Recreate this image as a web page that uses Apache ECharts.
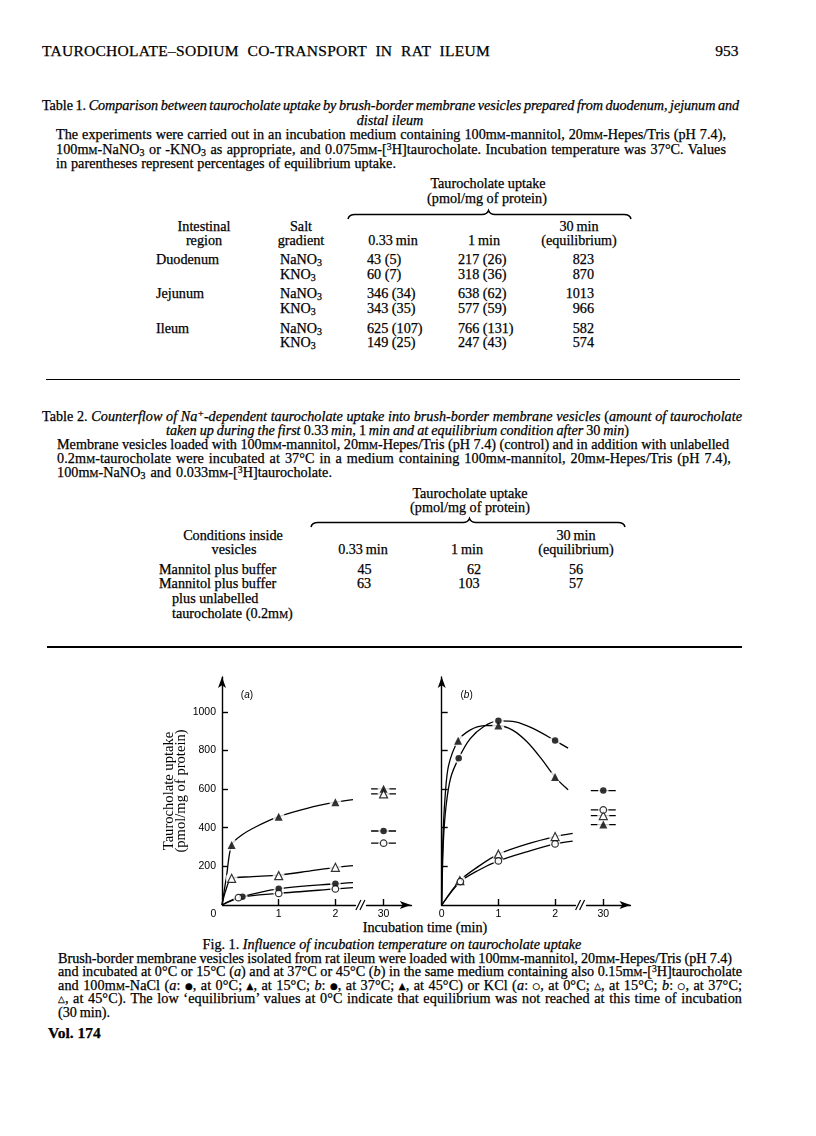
<!DOCTYPE html>
<html><head><meta charset="utf-8">
<script src="https://cdn.jsdelivr.net/npm/echarts@6/dist/echarts.min.js"></script>
<style>
html,body{margin:0;padding:0;background:#fff;}
#page{position:relative;width:816px;height:1136px;overflow:hidden;background:#fff;font-family:"Liberation Serif","Times New Roman",serif;color:#000;}
.t{position:absolute;white-space:nowrap;line-height:1;-webkit-text-stroke:0.25px #000;}
.sc{font-variant:small-caps;}
sub{font-size:0.7em;vertical-align:-0.22em;line-height:0;}
sup{font-size:0.68em;vertical-align:0.42em;line-height:0;}
.sym{font-family:"DejaVu Sans";font-size:0.62em;vertical-align:0.12em;}
#chart{position:absolute;left:0;top:0;width:816px;height:1136px;z-index:2;}
.rule{position:absolute;background:#000;}
svg.br{position:absolute;left:0;top:0;}
</style></head>
<body><div id="page">
<svg class="br" width="816" height="1136">
<path d="M348,219 Q349,214.5 355,214.5 L482,214.5 Q487,214.5 488.5,210.5 Q490,214.5 495,214.5 L624,214.5 Q630,214.5 631,219" fill="none" stroke="#000" stroke-width="1.5"/>
<path d="M311,527 Q312,522.5 318,522.5 L463,522.5 Q468,522.5 469.5,518.5 Q471,522.5 476,522.5 L618,522.5 Q624,522.5 625,527" fill="none" stroke="#000" stroke-width="1.5"/>
</svg>
<div class="rule" style="left:46px;top:378.5px;width:694px;height:1.6px"></div>
<div class="rule" style="left:47px;top:645.7px;width:695px;height:2px"></div>
<div id="chart"></div>
</div>
<script>
// ---------------- chart data ----------------
// Fig. 1(a): 0 °C and 15 °C ; time (min), uptake (pmol/mg of protein)
const A_NACL_15 = [[0.17, 311], [1, 457], [2, 532]];   // ▲ NaCl 15 °C
const A_KCL_15  = [[0.17, 138], [1, 152], [2, 195]];   // △ KCl 15 °C
const A_NACL_0  = [[0.36, 43], [1, 84], [2, 110]];     // ● NaCl 0 °C
const A_KCL_0   = [[0.29, 38], [1, 60], [2, 83]];      // ○ KCl 0 °C
const A_NACL_15_EQ = 601, A_KCL_15_EQ = 575, A_NACL_0_EQ = 383, A_KCL_0_EQ = 320; // at 30 min
// Fig. 1(b): 37 °C and 45 °C
const B_NACL_37 = [[0.3, 760], [1, 953], [2, 851]];    // ● NaCl 37 °C
const B_NACL_45 = [[0.29, 850], [1, 929], [2, 662]];   // ▲ NaCl 45 °C
const B_KCL_45  = [[0.32, 126], [1, 263], [2, 354]];   // △ KCl 45 °C
const B_KCL_37  = [[0.33, 121], [1, 228], [2, 316]];   // ○ KCl 37 °C
const B_NACL_37_EQ = 592, B_NACL_45_EQ = 416, B_KCL_45_EQ = 463, B_KCL_37_EQ = 492;
// hand-drawn fitted curves
const A_NACL_15_CURVE = [[0, 0], [0.08, 150], [0.17, 311], [0.35, 362], [0.6, 405], [1, 457], [1.5, 500], [2, 532], [2.31, 545]];
const A_KCL_15_CURVE  = [[0, 0], [0.06, 70], [0.17, 138], [0.5, 146], [1, 155], [1.5, 174], [2, 195], [2.31, 204]];
const A_NACL_0_CURVE  = [[0, 0], [0.36, 43], [1, 84], [2, 110], [2.31, 116]];
const A_KCL_0_CURVE   = [[0, 0], [0.29, 38], [1, 60], [2, 83], [2.31, 90]];
const B_NACL_37_CURVE = [[0, 0], [0.03, 330], [0.08, 520], [0.16, 660], [0.3, 760], [0.5, 860], [0.75, 925], [1, 953], [1.3, 948], [1.6, 915], [2, 851], [2.23, 812]];
const B_NACL_45_CURVE = [[0, 0], [0.02, 330], [0.06, 560], [0.12, 720], [0.29, 850], [0.5, 905], [0.75, 928], [1, 929], [1.25, 905], [1.5, 846], [1.75, 760], [2, 662], [2.23, 596]];
const B_KCL_45_CURVE  = [[0, 0], [0.32, 126], [0.65, 200], [1, 263], [1.5, 315], [2, 354], [2.31, 371]];
const B_KCL_37_CURVE  = [[0, 0], [0.33, 121], [0.65, 180], [1, 228], [1.5, 275], [2, 316], [2.31, 331]];
// axis ticks
const X_TICK_LABELS = [0, 1, 2, 30];
const X_TICKS = [1, 2, 30];
const Y_TICKS = [200, 400, 600, 800, 1000];
const EQ_TIME = 30;

// ---------------- page text ----------------
const page = document.getElementById('page');
const FS = 14.2;
const mM = 'm<span class="sc">m</span>';
const s3 = '<sub>3</sub>';
const h3 = '<sup>3</sup>';
function sym(c){ return '<span class="sym">' + c + '</span>'; }
function put(html, x, y, o){
  o = o || {};
  const size = o.size || FS;
  const d = document.createElement('div');
  d.className = 't';
  d.style.fontSize = size + 'px';
  if (o.bold) d.style.fontWeight = 'bold';
  d.innerHTML = html;
  page.appendChild(d);
  let w = d.getBoundingClientRect().width;
  if (o.w) {
    const txt = d.textContent;
    const spaces = (txt.match(/ /g) || []).length;
    const diff = o.w - w;
    if (spaces > 0) {
      d.style.letterSpacing = (diff * 0.4 / txt.length) + 'px';
      d.style.wordSpacing = (diff * 0.6 / spaces) + 'px';
    } else {
      d.style.letterSpacing = (diff / txt.length) + 'px';
    }
    w = o.w;
  }
  let left = x;
  if (o.align === 'center') left = x - w / 2;
  else if (o.align === 'right') left = x - w;
  d.style.left = left + 'px';
  d.style.top = (y - 0.54 * size) + 'px';
}
const C = {align: 'center'};
put('TAUROCHOLATE–SODIUM CO-TRANSPORT IN RAT ILEUM', 42, 51, {size: 15.5, w: 448});
put('953', 738.5, 51, {size: 15.5, align: 'right'});

put('Table 1. <i>Comparison between taurocholate uptake by brush-border membrane vesicles prepared from duodenum, jejunum and</i>', 42, 106, {w: 697});
put('<i>distal ileum</i>', 390, 120.5, C);
put(`The experiments were carried out in an incubation medium containing 100${mM}-mannitol, 20${mM}-Hepes/Tris (pH 7.4),`, 56, 135, {w: 670});
put(`100${mM}-NaNO${s3} or -KNO${s3} as appropriate, and 0.075${mM}-[${h3}H]taurocholate. Incubation temperature was 37°C. Values`, 56, 149.5, {w: 670});
put('in parentheses represent percentages of equilibrium uptake.', 56, 164, {w: 340});
put('Taurocholate uptake', 488, 184, C);
put('(pmol/mg of protein)', 487, 198.3, C);
put('Intestinal', 204, 226.7, C); put('region', 204, 241, C);
put('Salt', 301, 226.7, C); put('gradient', 301, 241, C);
put('0.33&#8201;min', 393, 241, C); put('1&#8201;min', 484, 241, C);
put('30&#8201;min', 579, 226.7, C); put('(equilibrium)', 579, 241, C);
const T1 = [
  ['Duodenum', `NaNO${s3}`, '43 (5)', '217 (26)', '823', 260],
  ['', `KNO${s3}`, '60 (7)', '318 (36)', '870', 274.3],
  ['Jejunum', `NaNO${s3}`, '346 (34)', '638 (62)', '1013', 294],
  ['', `KNO${s3}`, '343 (35)', '577 (59)', '966', 308.3],
  ['Ileum', `NaNO${s3}`, '625 (107)', '766 (131)', '582', 328.3],
  ['', `KNO${s3}`, '149 (25)', '247 (43)', '574', 342.7]
];
T1.forEach(r => {
  if (r[0]) put(r[0], 156, r[5]);
  put(r[1], 280, r[5]);
  put(r[2], 367, r[5]);
  put(r[3], 458, r[5]);
  put(r[4], 594, r[5], {align: 'right'});
});

put('Table 2. <i>Counterflow of Na<sup>+</sup>-dependent taurocholate uptake into brush-border membrane vesicles</i> (<i>amount of taurocholate</i>', 42, 416.7, {w: 700});
put('<i>taken up during the first</i> 0.33&#8201;<i>min</i>, 1&#8201;<i>min and at equilibrium condition after</i> 30&#8201;<i>min</i>)', 397.5, 430.5, {align: 'center', w: 463});
put(`Membrane vesicles loaded with 100${mM}-mannitol, 20${mM}-Hepes/Tris (pH 7.4) (control) and in addition with unlabelled`, 57, 444.5, {w: 672});
put(`0.2${mM}-taurocholate were incubated at 37°C in a medium containing 100${mM}-mannitol, 20${mM}-Hepes/Tris (pH 7.4),`, 57, 458.5, {w: 674});
put(`100${mM}-NaNO${s3} and 0.033${mM}-[${h3}H]taurocholate.`, 57, 472.5, {w: 275});
put('Taurocholate uptake', 470, 493.3, C);
put('(pmol/mg of protein)', 470, 507.3, C);
put('Conditions inside', 233, 536, C); put('vesicles', 234, 550, C);
put('0.33&#8201;min', 363, 550, C); put('1&#8201;min', 467, 550, C);
put('30&#8201;min', 576, 536, C); put('(equilibrium)', 576, 550, C);
put('Mannitol plus buffer', 159, 569.3);
put('45', 364.5, 569.3, C); put('62', 474, 569.3, C); put('56', 576, 569.3, C);
put('Mannitol plus buffer', 159, 584);
put('63', 364, 584, C); put('103', 469, 584, C); put('57', 576, 584, C);
put('plus unlabelled', 172, 598.3);
put(`taurocholate (0.2${mM})`, 172, 614);

put('Incubation time (min)', 425, 927.3, C);
put('Fig. 1. <i>Influence of incubation temperature on taurocholate uptake</i>', 392, 945, C);
put(`Brush-border membrane vesicles isolated from rat ileum were loaded with 100${mM}-mannitol, 20${mM}-Hepes/Tris (pH 7.4)`, 58, 958.5, {w: 674});
put(`and incubated at 0°C or 15°C (<i>a</i>) and at 37°C or 45°C (<i>b</i>) in the same medium containing also 0.15${mM}-[${h3}H]taurocholate`, 58, 972, {w: 684});
put(`and 100${mM}-NaCl (<i>a</i>: ${sym('●')}, at 0°C; ${sym('▲')}, at 15°C; <i>b</i>: ${sym('●')}, at 37°C; ${sym('▲')}, at 45°C) or KCl (<i>a</i>: ${sym('○')}, at 0°C; ${sym('△')}, at 15°C; <i>b</i>: ${sym('○')}, at 37°C;`, 58, 985.5, {w: 684});
put(`${sym('△')}, at 45°C). The low ‘equilibrium’ values at 0°C indicate that equilibrium was not reached at this time of incubation`, 58, 999, {w: 684});
put('(30&#8201;min).', 58, 1012.5);
put('Vol. 174', 48, 1033, {size: 15.5, bold: true});

// ---------------- chart ----------------
const chart = echarts.init(document.getElementById('chart'));
const INK = '#000';
const LBL = {color: INK, fontFamily: 'Liberation Sans', fontSize: 10.5};
function xAxis(i){
  const lab = Object.assign({show: true, customValues: X_TICK_LABELS, margin: 4}, LBL);
  if (i === 0) {
    lab.formatter = v => v === 0 ? '{z|0}' : String(v);
    lab.rich = {z: Object.assign({padding: [0, 17, 0, 0]}, LBL)};
  } else {
    lab.formatter = v => String(v);
  }
  return {
    type: 'value', gridIndex: i, min: 0, max: 30.48,
    breaks: [{start: 2.35, end: 29.7, gap: 0.2}],
    breakArea: {show: false},
    axisLine: {show: true, onZero: false, symbol: ['none', 'arrow'], symbolSize: [6, 11], lineStyle: {color: INK, width: 1.4}},
    axisTick: {show: true, inside: true, length: 6, customValues: X_TICKS, lineStyle: {color: INK, width: 1.4}},
    axisLabel: lab,
    splitLine: {show: false}
  };
}
function yAxis(i, labels){
  const ax = {
    type: 'value', gridIndex: i, min: 0, max: 1180,
    axisLine: {show: true, onZero: false, symbol: ['none', 'arrow'], symbolSize: [6, 11], lineStyle: {color: INK, width: 1.4}},
    axisTick: {show: true, inside: true, length: 6, customValues: Y_TICKS, lineStyle: {color: INK, width: 1.4}},
    axisLabel: Object.assign({show: labels, customValues: Y_TICKS, margin: 6, formatter: v => String(v)}, LBL),
    splitLine: {show: false}
  };
  if (labels) {
    ax.name = 'Taurocholate uptake\n(pmol/mg of protein)';
    ax.nameLocation = 'middle';
    ax.nameRotate = 90;
    ax.nameGap = 28;
    ax.nameTextStyle = {fontFamily: 'Liberation Serif', fontSize: 14.6, lineHeight: 12.5, color: INK};
  }
  return ax;
}
const DEFS = [
  {p: 0, pts: A_NACL_15, eq: A_NACL_15_EQ, curve: A_NACL_15_CURVE, sym: 'triangle', filled: true},
  {p: 0, pts: A_KCL_15,  eq: A_KCL_15_EQ,  curve: A_KCL_15_CURVE,  sym: 'triangle', filled: false},
  {p: 0, pts: A_NACL_0,  eq: A_NACL_0_EQ,  curve: A_NACL_0_CURVE,  sym: 'circle', filled: true},
  {p: 0, pts: A_KCL_0,   eq: A_KCL_0_EQ,   curve: A_KCL_0_CURVE,   sym: 'circle', filled: false},
  {p: 1, pts: B_NACL_37, eq: B_NACL_37_EQ, curve: B_NACL_37_CURVE, sym: 'circle', filled: true},
  {p: 1, pts: B_NACL_45, eq: B_NACL_45_EQ, curve: B_NACL_45_CURVE, sym: 'triangle', filled: true},
  {p: 1, pts: B_KCL_45,  eq: B_KCL_45_EQ,  curve: B_KCL_45_CURVE,  sym: 'triangle', filled: false},
  {p: 1, pts: B_KCL_37,  eq: B_KCL_37_EQ,  curve: B_KCL_37_CURVE,  sym: 'circle', filled: false}
];
const EQ_HALF = 0.22;
const series = [];
DEFS.forEach(d => {
  const base = {xAxisIndex: d.p, yAxisIndex: d.p, animation: false, silent: true};
  const size = d.sym === 'triangle' ? 8 : 6.5;
  const marks = d.pts.concat([[EQ_TIME, d.eq]]);
  series.push(Object.assign({type: 'line', data: d.curve, smooth: 0.3, symbol: 'none',
    lineStyle: {color: INK, width: 1.3}, z: 2}, base));
  series.push(Object.assign({type: 'line', data: [[EQ_TIME - EQ_HALF, d.eq], [EQ_TIME + EQ_HALF, d.eq]], symbol: 'none',
    lineStyle: {color: INK, width: 1.3}, z: 2}, base));
  series.push(Object.assign({type: 'scatter', data: marks, symbol: 'circle', symbolSize: size + 4,
    itemStyle: {color: '#fff'}, z: 3}, base));
  series.push(Object.assign({type: 'scatter', data: marks, symbol: d.sym, symbolSize: size,
    itemStyle: d.filled ? {color: INK} : {color: '#fff', borderColor: INK, borderWidth: 1.2}, z: 4}, base));
});
chart.setOption({
  animation: false,
  grid: [
    {left: 222, top: 677, width: 188.8, height: 228},
    {left: 441.7, top: 677, width: 188.8, height: 228}
  ],
  xAxis: [xAxis(0), xAxis(1)],
  yAxis: [yAxis(0, true), yAxis(1, false)],
  series: series
});
// break marks "//" and panel letters
const g = [];
[0, 1].forEach(i => {
  const a = chart.convertToPixel({xAxisIndex: i}, 2.35);
  const b = chart.convertToPixel({xAxisIndex: i}, 29.7);
  const y0 = chart.convertToPixel({yAxisIndex: i}, 0);
  const cx = (a + b) / 2;
  [-2.5, 1.5].forEach(dx => g.push({type: 'line', z: 10,
    shape: {x1: cx + dx - 2.5, y1: y0 + 5, x2: cx + dx + 2.5, y2: y0 - 5},
    style: {stroke: INK, lineWidth: 1.2}}));
  const ylab = chart.convertToPixel({yAxisIndex: i}, 1088);
  const xlab = chart.convertToPixel({xAxisIndex: i}, 0.44);
  g.push({type: 'text', z: 10, x: xlab, y: ylab,
    style: {text: '({i|' + (i === 0 ? 'a' : 'b') + '})', fill: INK, fontFamily: 'Liberation Sans', fontSize: 10,
      align: 'center', verticalAlign: 'middle',
      rich: {i: {fontStyle: 'italic', fontFamily: 'Liberation Sans', fontSize: 10, fill: INK}}}});
});
chart.setOption({graphic: g});
</script>
</body></html>
